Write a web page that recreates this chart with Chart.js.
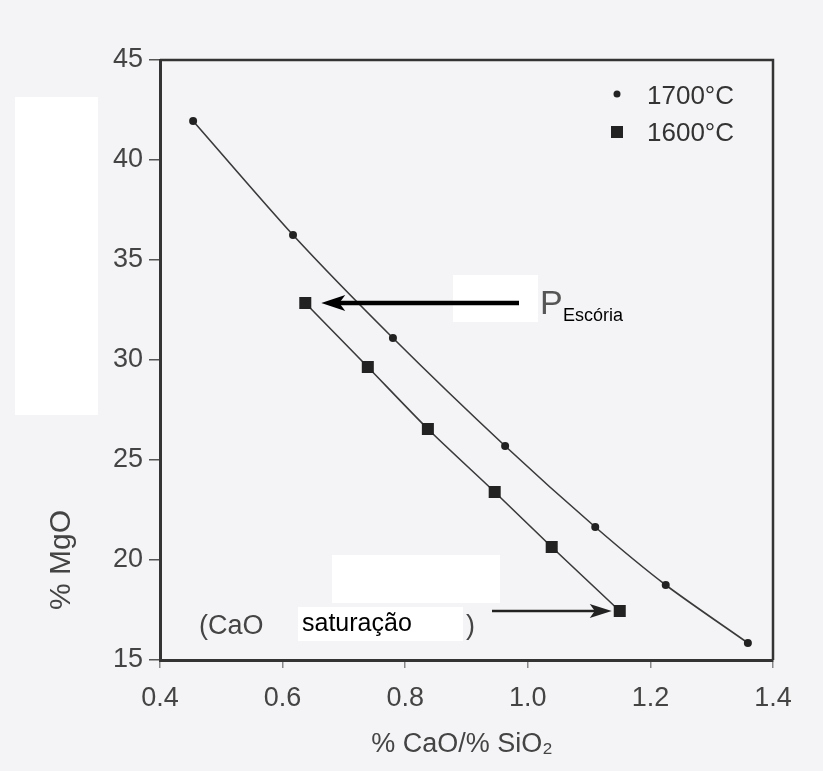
<!DOCTYPE html>
<html>
<head>
<meta charset="utf-8">
<script src="https://cdn.jsdelivr.net/npm/chart.js@4.4.1/dist/chart.umd.min.js"></script>
<style>
  html, body { margin: 0; padding: 0; background: #f4f4f6; }
  #wrap { width: 823px; height: 771px; position: relative; }
</style>
</head>
<body>
<div id="wrap"><canvas id="c" width="823" height="771"></canvas></div>
<script>
// ---- data ----
const ratio1700 = [0.454, 0.617, 0.780, 0.963, 1.110, 1.225, 1.359];
const mgo1700   = [41.95, 36.25, 31.10, 25.70, 21.65, 18.75, 15.85];
const ratio1600 = [0.637, 0.739, 0.837, 0.946, 1.039, 1.150];
const mgo1600   = [32.85, 29.65, 26.55, 23.40, 20.65, 17.45];
const seriesNames = ['1700°C', '1600°C'];
const xTicks = [0.4, 0.6, 0.8, 1.0, 1.2, 1.4];
const yTicks = [15, 20, 25, 30, 35, 40, 45];
const xTitle = '% CaO/% SiO₂';
const yTitle = '% MgO';

const toPts = (xs, ys) => xs.map((x, i) => ({x: x, y: ys[i]}));
const FONT = '"Liberation Sans", Arial, sans-serif';

const decor = {
  id: 'decor',
  beforeDraw(chart) {
    const ctx = chart.ctx;
    ctx.save();
    ctx.fillStyle = '#f4f4f6';
    ctx.fillRect(0, 0, chart.width, chart.height);
    ctx.restore();
  },
  afterDraw(chart) {
    const ctx = chart.ctx;
    const a = chart.chartArea;
    const xs = chart.scales.x, ys = chart.scales.y;
    ctx.save();
    // top & right frame
    ctx.strokeStyle = '#333';
    ctx.lineWidth = 2.5;
    ctx.beginPath();
    ctx.moveTo(a.left, a.top);
    ctx.lineTo(a.right, a.top);
    ctx.lineTo(a.right, a.bottom);
    ctx.stroke();

    // white patches
    ctx.fillStyle = '#ffffff';
    ctx.fillRect(15, 97, 83, 318);
    ctx.fillRect(453, 275, 85, 47);
    ctx.fillRect(332, 555, 168, 48);
    ctx.fillRect(298, 607, 165, 34);

    // legend
    ctx.fillStyle = '#222';
    ctx.beginPath();
    ctx.arc(617, 94, 3.5, 0, Math.PI * 2);
    ctx.fill();
    ctx.fillRect(611, 126, 12, 12);
    ctx.fillStyle = '#333';
    ctx.font = '26px ' + FONT;
    ctx.textAlign = 'left';
    ctx.textBaseline = 'middle';
    ctx.fillText(seriesNames[0], 647, 97);
    ctx.fillText(seriesNames[1], 647, 134);

    // P arrow (points to first 1600 point)
    const pY = ys.getPixelForValue(mgo1600[0]);
    const pX = xs.getPixelForValue(ratio1600[0]) + 16;
    ctx.strokeStyle = '#000';
    ctx.fillStyle = '#000';
    ctx.lineWidth = 4.5;
    ctx.beginPath();
    ctx.moveTo(519, pY);
    ctx.lineTo(pX + 14, pY);
    ctx.stroke();
    ctx.beginPath();
    ctx.moveTo(pX, pY);
    ctx.lineTo(pX + 24, pY - 8);
    ctx.lineTo(pX + 18, pY);
    ctx.lineTo(pX + 24, pY + 8);
    ctx.closePath();
    ctx.fill();

    ctx.fillStyle = '#555';
    ctx.font = '34px ' + FONT;
    ctx.textBaseline = 'alphabetic';
    ctx.fillText('P', 540, 314);
    ctx.fillStyle = '#000';
    ctx.font = '18px ' + FONT;
    ctx.fillText('Escória', 563, 321);

    // saturation arrow
    const sY = ys.getPixelForValue(mgo1600[mgo1600.length - 1]);
    const sX = xs.getPixelForValue(ratio1600[ratio1600.length - 1]) - 8;
    ctx.strokeStyle = '#222';
    ctx.fillStyle = '#222';
    ctx.lineWidth = 2.5;
    ctx.beginPath();
    ctx.moveTo(492, sY);
    ctx.lineTo(sX - 12, sY);
    ctx.stroke();
    ctx.beginPath();
    ctx.moveTo(sX, sY);
    ctx.lineTo(sX - 22, sY - 7);
    ctx.lineTo(sX - 17, sY);
    ctx.lineTo(sX - 22, sY + 7);
    ctx.closePath();
    ctx.fill();

    ctx.textBaseline = 'middle';
    ctx.fillStyle = '#444';
    ctx.font = '27px ' + FONT;
    ctx.fillText('(CaO', 199, 627);
    ctx.fillText(')', 466, 627);
    ctx.fillStyle = '#000';
    ctx.font = '25px ' + FONT;
    ctx.fillText('saturação', 302, 624);

    // axis titles
    ctx.fillStyle = '#444';
    ctx.font = '27px ' + FONT;
    ctx.textAlign = 'center';
    ctx.fillText(xTitle, 462, 745);
    ctx.save();
    ctx.translate(62, 560);
    ctx.rotate(-Math.PI / 2);
    ctx.font = '30px ' + FONT;
    ctx.fillText(yTitle, 0, 0);
    ctx.restore();
    ctx.restore();
  }
};

new Chart(document.getElementById('c'), {
  type: 'scatter',
  data: {
    datasets: [
      {
        label: seriesNames[0],
        data: toPts(ratio1700, mgo1700),
        showLine: true,
        borderColor: '#3a3a3a',
        borderWidth: 1.6,
        backgroundColor: '#222',
        pointStyle: 'circle',
        pointRadius: 4,
        pointBorderWidth: 0,
        tension: 0.25
      },
      {
        label: seriesNames[1],
        data: toPts(ratio1600, mgo1600),
        showLine: true,
        borderColor: '#3a3a3a',
        borderWidth: 1.6,
        backgroundColor: '#222',
        pointStyle: 'rect',
        pointRadius: 8.5,
        pointBorderWidth: 0,
        tension: 0.25
      }
    ]
  },
  options: {
    responsive: false,
    animation: false,
    devicePixelRatio: 1,
    layout: { padding: { left: 0, right: 50, top: 60, bottom: 0 } },
    plugins: { legend: { display: false }, tooltip: { enabled: false } },
    scales: {
      x: {
        type: 'linear',
        min: xTicks[0],
        max: xTicks[xTicks.length - 1],
        afterFit: s => { s.height = 111; },
        afterBuildTicks: s => { s.ticks = xTicks.map(v => ({value: v})); },
        ticks: {
          callback: v => Number(v).toFixed(1),
          color: '#444',
          font: { family: FONT, size: 27 },
          padding: 14
        },
        grid: { display: true, drawOnChartArea: false, drawTicks: true, tickLength: 8, color: '#888', lineWidth: 1.5 },
        border: { display: true, color: '#333', width: 3 }
      },
      y: {
        type: 'linear',
        min: yTicks[0],
        max: yTicks[yTicks.length - 1],
        afterFit: s => { s.width = 160; },
        afterBuildTicks: s => { s.ticks = yTicks.map(v => ({value: v})); },
        ticks: {
          color: '#444',
          font: { family: FONT, size: 27 },
          padding: 6
        },
        grid: { display: true, drawOnChartArea: false, drawTicks: true, tickLength: 11, color: '#555', lineWidth: 1.5 },
        border: { display: true, color: '#333', width: 3 }
      }
    }
  },
  plugins: [decor]
});
</script>
</body>
</html>
